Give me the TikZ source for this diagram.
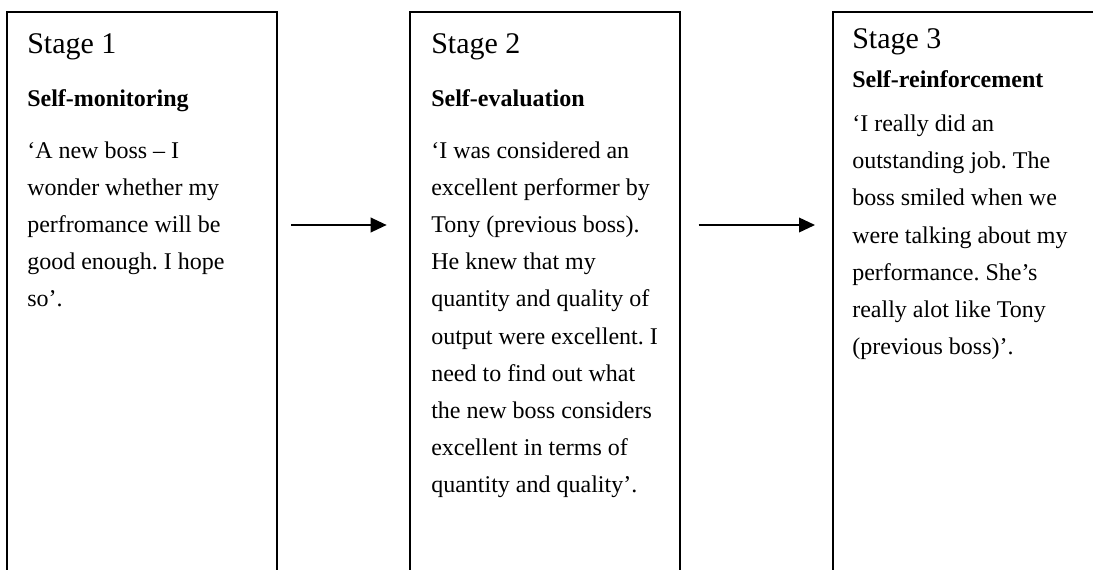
\documentclass[tikz,border=0pt]{standalone}
\usepackage{fontspec}
\setmainfont{Liberation Serif}
\usetikzlibrary{arrows.meta}
\frenchspacing
\begin{document}
\begin{tikzpicture}[x=0.75pt,y=-0.75pt,
  stagebox/.style={draw, line width=1.2pt, inner sep=0pt, outer sep=0pt,
    anchor=north west, minimum width=202.5pt, minimum height=450pt},
  stagetitle/.style={anchor=base west, inner sep=0pt, font=\fontsize{22.5}{27}\selectfont},
  phase/.style={anchor=base west, inner sep=0pt, font=\fontsize{18}{22}\selectfont\bfseries},
  quote/.style={anchor=base west, inner sep=0pt, font=\fontsize{18}{22}\selectfont},
  flow/.style={-{Triangle[length=12pt,width=11pt]}, line width=1.2pt}]
\clip (0,0) rectangle (1093,569);

% the three stage boxes (they run past the lower edge)
\node[stagebox] (box1) at (7,12) {};
\node[stagebox] (box2) at (410,12) {};
\node[stagebox] (box3) at (833,12) {};

% stage 1
\node[stagetitle] (s1) at (27,53) {Stage 1};
\node[phase] (p1) at (27,106.5) {Self-monitoring};
\foreach \ln [count=\i] in {‘A new boss – I, wonder whether my,
    perfromance will be, good enough. I hope, so’.}
  \node[quote] (q1-\i) at (27,{158+37.2*(\i-1)}) {\ln};

% stage 2
\node[stagetitle] (s2) at (431,53) {Stage 2};
\node[phase] (p2) at (431,106.5) {Self-evaluation};
\foreach \ln [count=\i] in {‘I was considered an, excellent performer by,
    Tony (previous boss)., He knew that my, quantity and quality of,
    output were excellent. I, need to find out what,
    the new boss considers, excellent in terms of, quantity and quality’.}
  \node[quote] (q2-\i) at (431,{158+37.2*(\i-1)}) {\ln};

% stage 3
\node[stagetitle] (s3) at (852,48.5) {Stage 3};
\node[phase] (p3) at (852,87.5) {Self-reinforcement};
\foreach \ln [count=\i] in {‘I really did an, outstanding job. The,
    boss smiled when we, were talking about my, performance. She’s,
    really alot like Tony, (previous boss)’.}
  \node[quote] (q3-\i) at (852,{131.5+37.2*(\i-1)}) {\ln};

% arrows between the stages
\coordinate (mid) at (0,225);
\draw[flow, shorten <=10.5pt, shorten >=17.5pt] (box1.east |- mid) -- (box2.west |- mid);
\draw[flow, shorten <=14pt, shorten >=13.5pt] (box2.east |- mid) -- (box3.west |- mid);
\end{tikzpicture}
\end{document}
